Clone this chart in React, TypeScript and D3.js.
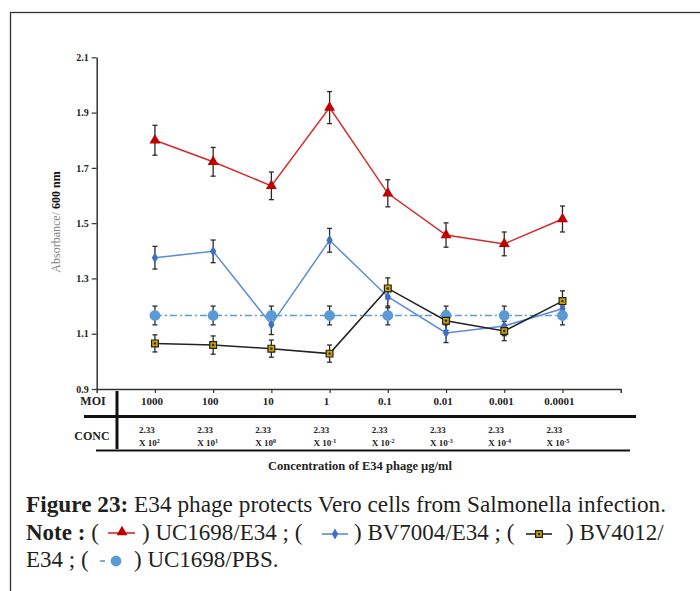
import { useEffect, useRef } from 'react';
import * as d3 from 'd3';

// categories (MOI) and concentration exponents
const moiLabels = ['1000', '100', '10', '1', '0.1', '0.01', '0.001', '0.0001'];
const concExponents = ['2', '1', '0', '-1', '-2', '-3', '-4', '-5'];
const yTicks = [0.9, 1.1, 1.3, 1.5, 1.7, 1.9, 2.1];

// series values
const uc1698E34 = [1.8, 1.722, 1.635, 1.918, 1.608, 1.457, 1.425, 1.515];
const uc1698E34Err = [0.054, 0.052, 0.05, 0.058, 0.049, 0.044, 0.043, 0.047];
const bv7004E34 = [1.375, 1.398, 1.133, 1.438, 1.234, 1.103, 1.128, 1.19];
const bv7004E34Err = [0.041, 0.041, 0.036, 0.043, 0.04, 0.035, 0.035, 0.035];
const bv4012E34 = [1.065, 1.059, 1.046, 1.028, 1.264, 1.147, 1.11, 1.218];
const bv4012E34Err = [0.031, 0.033, 0.031, 0.031, 0.038, 0.035, 0.035, 0.037];
const uc1698PBS = [1.166, 1.166, 1.166, 1.166, 1.166, 1.166, 1.166, 1.166];
const uc1698PBSErr = [0.034, 0.034, 0.034, 0.034, 0.034, 0.034, 0.034, 0.034];

const SERIF = '"Liberation Serif", "DejaVu Serif", serif';
const RED = '#d42a2a';
const RED_MARK = '#c00000';
const BLUE = '#5b8bd8';
const BLUE_MARK = '#3f6fc6';
const PBS = '#5b9bd5';
const GOLD = '#c9a200';

const render = (svgEl) => {
  const svg = d3.select(svgEl);
  svg.selectAll('*').remove();

  const x = d3.scalePoint().domain(moiLabels).range([96.7, 620.7]).padding(1);
  const y = d3.scaleLinear().domain([0.9, 2.1]).range([389, 57.3]);

  // frame
  svg
    .append('rect')
    .attr('x', 10.5)
    .attr('y', 12.5)
    .attr('width', 720)
    .attr('height', 620)
    .attr('fill', 'none')
    .attr('stroke', '#333')
    .attr('stroke-width', 1.3);

  // y axis
  const yAxis = svg
    .append('g')
    .attr('transform', 'translate(96.7,0)')
    .call(
      d3.axisLeft(y).tickValues(yTicks).tickSize(5).tickSizeOuter(0).tickFormat(d3.format('.1f')),
    );
  yAxis.select('.domain').attr('stroke', '#333').attr('stroke-width', 1.5);
  yAxis.selectAll('.tick line').attr('stroke', '#333').attr('stroke-width', 1.2);
  yAxis
    .selectAll('.tick text')
    .attr('font-family', SERIF)
    .attr('font-weight', 'bold')
    .attr('font-size', 10)
    .attr('fill', '#222')
    .attr('x', -8);

  // x axis
  const xAxis = svg
    .append('g')
    .attr('transform', 'translate(0,389)')
    .call(d3.axisBottom(x).tickSize(4).tickSizeOuter(4).tickFormat(() => ''));
  xAxis.select('.domain').attr('stroke', '#333').attr('stroke-width', 1.5);
  xAxis.selectAll('.tick line').attr('stroke', '#333').attr('stroke-width', 1.2);

  // y label
  const yl = svg
    .append('text')
    .attr('transform', 'translate(60,222) rotate(-90)')
    .attr('text-anchor', 'middle')
    .attr('font-family', SERIF)
    .attr('font-size', 12);
  yl.append('tspan').attr('fill', '#808080').text('Absorbance/ ');
  yl.append('tspan').attr('fill', '#111').attr('font-weight', 'bold').text('600 nm');

  // series
  const series = [
    { vals: bv7004E34, err: bv7004E34Err, color: BLUE, dash: null, mark: 'diamond' },
    { vals: uc1698PBS, err: uc1698PBSErr, color: PBS, dash: '7,3,2,3', mark: 'circle' },
    { vals: bv4012E34, err: bv4012E34Err, color: '#222', dash: null, mark: 'square' },
    { vals: uc1698E34, err: uc1698E34Err, color: RED, dash: null, mark: 'triangle' },
  ];

  const line = d3
    .line()
    .x((d, i) => x(moiLabels[i]))
    .y((d) => y(d));

  // error bars first
  series.forEach((s) => {
    const g = svg.append('g').attr('stroke', '#2a2a2a').attr('stroke-width', 1.3);
    s.vals.forEach((v, i) => {
      const cx = x(moiLabels[i]);
      const top = y(v + s.err[i]);
      const bot = y(v - s.err[i]);
      g.append('line').attr('x1', cx).attr('x2', cx).attr('y1', top).attr('y2', bot);
      g.append('line').attr('x1', cx - 2.5).attr('x2', cx + 2.5).attr('y1', top).attr('y2', top);
      g.append('line').attr('x1', cx - 2.5).attr('x2', cx + 2.5).attr('y1', bot).attr('y2', bot);
    });
  });

  const drawMark = (g, kind, cx, cy) => {
    if (kind === 'triangle') {
      g.append('path')
        .attr('d', d3.symbol(d3.symbolTriangle, 52)())
        .attr('transform', `translate(${cx},${cy})`)
        .attr('fill', RED_MARK);
    } else if (kind === 'diamond') {
      g.append('path')
        .attr('d', d3.symbol(d3.symbolDiamond, 34)())
        .attr('transform', `translate(${cx},${cy})`)
        .attr('fill', BLUE_MARK);
    } else if (kind === 'circle') {
      g.append('path')
        .attr('d', d3.symbol(d3.symbolCircle, 92)())
        .attr('transform', `translate(${cx},${cy})`)
        .attr('fill', PBS);
    } else {
      g.append('path')
        .attr('d', d3.symbol(d3.symbolSquare, 46)())
        .attr('transform', `translate(${cx},${cy})`)
        .attr('fill', GOLD)
        .attr('stroke', '#222')
        .attr('stroke-width', 1.2);
      g.append('circle').attr('cx', cx).attr('cy', cy).attr('r', 1.2).attr('fill', '#222');
    }
  };

  series.forEach((s) => {
    svg
      .append('path')
      .datum(s.vals)
      .attr('d', line)
      .attr('fill', 'none')
      .attr('stroke', s.color)
      .attr('stroke-width', 1.5)
      .attr('stroke-dasharray', s.dash);
    const g = svg.append('g');
    s.vals.forEach((v, i) => drawMark(g, s.mark, x(moiLabels[i]), y(v)));
  });

  // table below axis
  const tbl = svg.append('g').attr('stroke', '#111');
  tbl.append('line').attr('x1', 117).attr('x2', 117).attr('y1', 391).attr('y2', 449).attr('stroke-width', 3);
  tbl.append('line').attr('x1', 84).attr('x2', 636).attr('y1', 416.5).attr('y2', 416.5).attr('stroke-width', 3);
  tbl.append('line').attr('x1', 96).attr('x2', 630).attr('y1', 450.5).attr('y2', 450.5).attr('stroke-width', 2);

  const rowTxt = (tx, ty, s, size, anchor = 'middle') =>
    svg
      .append('text')
      .attr('x', tx)
      .attr('y', ty)
      .attr('text-anchor', anchor)
      .attr('font-family', SERIF)
      .attr('font-weight', 'bold')
      .attr('font-size', size)
      .attr('fill', '#222')
      .text(s);

  rowTxt(93, 405, 'MOI', 12);
  rowTxt(92, 440, 'CONC', 12);
  moiLabels.forEach((m, i) => {
    const cx = x(m);
    rowTxt(cx - 3, 405, m, 11);
    rowTxt(cx - 16, 433, '2.33', 9, 'start');
    const t = rowTxt(cx - 16, 446, 'X 10', 9, 'start');
    t.append('tspan').attr('font-size', 6).attr('dy', -3.5).text(concExponents[i]);
  });

  rowTxt(360, 470, 'Concentration of E34 phage µg/ml', 12).attr('textLength', 184).attr('lengthAdjust', 'spacingAndGlyphs');

  // caption
  const cap = (tx, ty) =>
    svg
      .append('text')
      .attr('x', tx)
      .attr('y', ty)
      .attr('font-family', SERIF)
      .attr('font-size', 23)
      .attr('fill', '#231f20');

  const l1 = cap(26, 512).attr('textLength', 640).attr('lengthAdjust', 'spacingAndGlyphs');
  l1.append('tspan').attr('font-weight', 'bold').text('Figure 23:');
  l1.append('tspan').text(' E34 phage protects Vero cells from Salmonella infection.');

  const l2a = cap(26, 540);
  l2a.append('tspan').attr('font-weight', 'bold').text('Note : ');
  l2a.append('tspan').text('(');
  cap(142, 540).text(') UC1698/E34 ; (');
  cap(354, 540).text(') BV7004/E34 ; (');
  cap(566, 540).text(') BV4012/');

  cap(26, 567).text('E34 ; (');
  cap(134, 567).text(') UC1698/PBS.');

  const leg = svg.append('g');
  const legLine = (x1, x2, ly, color, dash = null) =>
    leg
      .append('line')
      .attr('x1', x1)
      .attr('x2', x2)
      .attr('y1', ly)
      .attr('y2', ly)
      .attr('stroke', color)
      .attr('stroke-width', 1.6)
      .attr('stroke-dasharray', dash);

  legLine(108, 135, 533, RED);
  drawMark(leg, 'triangle', 122, 532);
  legLine(322, 348, 534, BLUE);
  drawMark(leg, 'diamond', 335, 534);
  legLine(526, 552, 534, '#222');
  drawMark(leg, 'square', 539, 534);
  legLine(100, 105, 561, PBS);
  drawMark(leg, 'circle', 116, 561);
};

export default function App() {
  const ref = useRef(null);
  useEffect(() => {
    render(ref.current);
  }, []);
  return (
    <div style={{ position: 'absolute', left: 0, top: 0 }}>
      <svg ref={ref} width={700} height={591} style={{ display: 'block', background: '#fff' }} />
    </div>
  );
}
